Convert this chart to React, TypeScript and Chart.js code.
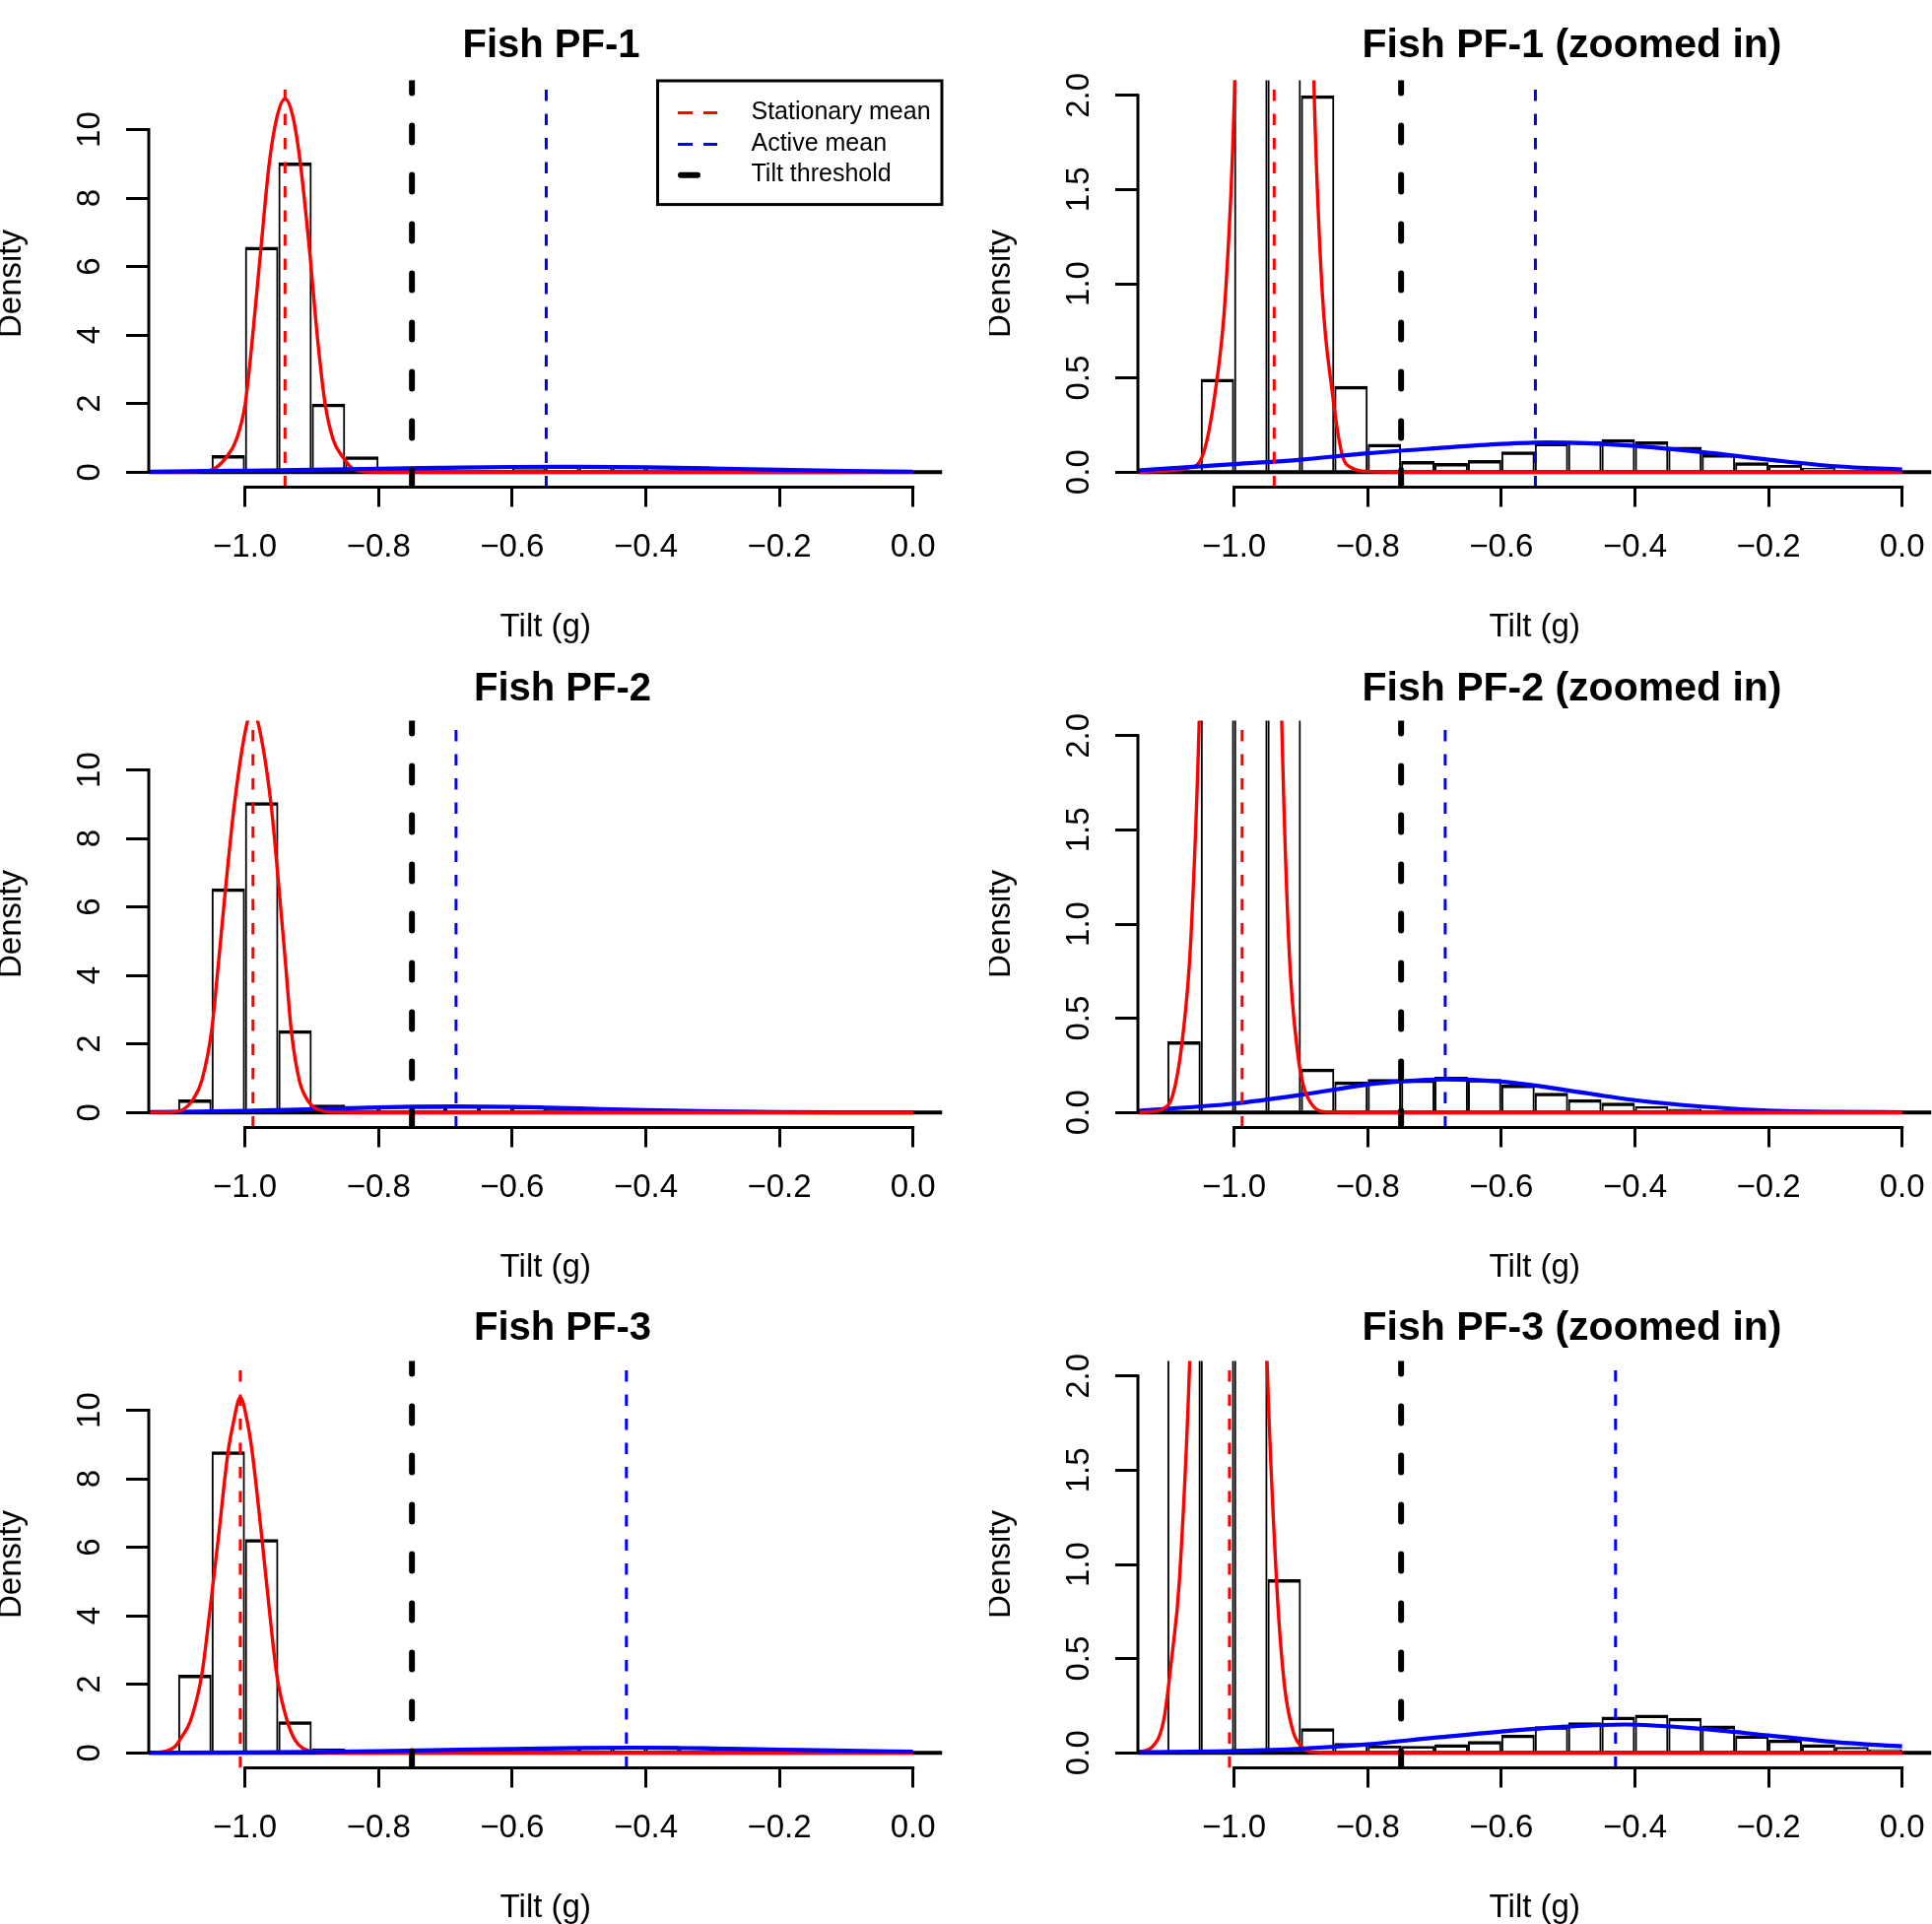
import React, { useEffect, useRef } from 'react';
import { Chart, registerables } from 'chart.js';

Chart.register(...registerables);

const FONT_FAMILY = "'Liberation Sans', Arial, Helvetica, sans-serif";
Chart.defaults.font.family = FONT_FAMILY;
Chart.defaults.color = '#000';

// ---------------- data ----------------
const BIN_WIDTH = 0.05;

// Fish PF-1
const PF1_BIN_LEFT = [-1.05, -1.0, -0.95, -0.9, -0.85, -0.8, -0.75, -0.7, -0.65, -0.6, -0.55, -0.5, -0.45, -0.4, -0.35, -0.3, -0.25, -0.2, -0.15, -0.1, -0.05];
const PF1_DENSITY = [0.495, 6.58, 9.04, 2.0, 0.458, 0.15, 0.059, 0.048, 0.064, 0.109, 0.156, 0.165, 0.175, 0.163, 0.135, 0.095, 0.052, 0.038, 0.022, 0.012, 0.006];
const PF1_STAT_X = [-1.144, -1.106, -1.068, -1.048, -1.0285, -1.013, -0.9996, -0.9893, -0.976, -0.9637, -0.9524, -0.94, -0.9278, -0.917, -0.9037, -0.8909, -0.88, -0.8678, -0.854, -0.8388, -0.8235, -0.8, -0.75, 0.0];
const PF1_STAT_Y = [0, 0.005, 0.022, 0.08, 0.42, 0.94, 1.99, 3.81, 6.55, 9.0, 10.34, 10.9, 10.34, 9.0, 6.55, 3.81, 1.99, 0.94, 0.45, 0.1, 0.022, 0.003, 0, 0];
const PF1_ACT_X = [-1.144, -1.05, -1.0, -0.9, -0.8, -0.7, -0.6, -0.53, -0.5, -0.4, -0.3, -0.2, -0.1, 0.0];
const PF1_ACT_Y = [0.009, 0.03, 0.042, 0.066, 0.1, 0.126, 0.149, 0.157, 0.156, 0.139, 0.106, 0.066, 0.031, 0.013];
const PF1_STATIONARY_MEAN = -0.94;
const PF1_ACTIVE_MEAN = -0.549;

// Fish PF-2
const PF2_BIN_LEFT = [-1.1, -1.05, -1.0, -0.95, -0.9, -0.85, -0.8, -0.75, -0.7, -0.65, -0.6, -0.55, -0.5, -0.45, -0.4, -0.35, -0.3, -0.25, -0.2, -0.15, -0.1, -0.05];
const PF2_DENSITY = [0.378, 6.54, 9.06, 2.4, 0.232, 0.164, 0.178, 0.175, 0.19, 0.178, 0.147, 0.105, 0.07, 0.052, 0.033, 0.019, 0.01, 0.005, 0.003, 0.002, 0.001, 0.001];
const PF2_STAT_X = [-1.144, -1.125, -1.106, -1.092, -1.078, -1.0646, -1.0498, -1.04, -1.0291, -1.0154, -0.9977, -0.9885, -0.9794, -0.9613, -0.949, -0.939, -0.9307, -0.9185, -0.9047, -0.896, -0.881, -0.86, -0.8, 0.0];
const PF2_STAT_Y = [0, 0.004, 0.02, 0.09, 0.37, 0.93, 2.4, 4.29, 6.53, 9.06, 11.3, 11.75, 11.3, 9.06, 6.53, 4.29, 2.4, 0.93, 0.31, 0.14, 0.03, 0.002, 0, 0];
const PF2_ACT_X = [-1.144, -1.0, -0.9, -0.8, -0.75, -0.686, -0.6, -0.55, -0.5, -0.4, -0.3, -0.2, -0.1, 0.0];
const PF2_ACT_Y = [0.009, 0.047, 0.093, 0.148, 0.165, 0.176, 0.164, 0.143, 0.117, 0.065, 0.031, 0.01, 0.003, 0.001];
const PF2_STATIONARY_MEAN = -0.988;
const PF2_ACTIVE_MEAN = -0.684;

// Fish PF-3
const PF3_BIN_LEFT = [-1.1, -1.05, -1.0, -0.95, -0.9, -0.85, -0.8, -0.75, -0.7, -0.65, -0.6, -0.55, -0.5, -0.45, -0.4, -0.35, -0.3, -0.25, -0.2, -0.15, -0.1, -0.05];
const PF3_DENSITY = [2.28, 8.8, 6.24, 0.922, 0.13, 0.052, 0.038, 0.037, 0.045, 0.062, 0.097, 0.141, 0.162, 0.192, 0.202, 0.185, 0.145, 0.092, 0.07, 0.045, 0.031, 0.02];
const PF3_STAT_X = [-1.144, -1.123, -1.105, -1.0935, -1.0818, -1.0646, -1.0532, -1.04, -1.0252, -1.0178, -1.007, -0.9957, -0.9893, -0.9745, -0.9627, -0.9524, -0.9366, -0.925, -0.913, -0.898, -0.876, -0.84, 0.0];
const PF3_STAT_Y = [0.004, 0.03, 0.18, 0.5, 0.92, 2.28, 4.03, 6.24, 8.8, 9.59, 10.38, 9.59, 8.8, 6.24, 4.03, 2.28, 0.92, 0.37, 0.13, 0.029, 0.002, 0, 0];
const PF3_ACT_X = [-1.144, -1.0, -0.9, -0.8, -0.7, -0.6, -0.5, -0.415, -0.3, -0.2, -0.1, 0.0];
const PF3_ACT_Y = [0.003, 0.01, 0.022, 0.045, 0.08, 0.113, 0.139, 0.15, 0.127, 0.092, 0.057, 0.034];
const PF3_STATIONARY_MEAN = -1.007;
const PF3_ACTIVE_MEAN = -0.429;

const TILT_THRESHOLD = -0.75;

const FISH_NAMES = ['Fish PF-1', 'Fish PF-2', 'Fish PF-3'];
const LEGEND_LABELS = ['Stationary mean', 'Active mean', 'Tilt threshold'];

const X_TICKS = [-1.0, -0.8, -0.6, -0.4, -0.2, 0.0];
const X_TICK_LABELS = ['\u22121.0', '\u22120.8', '\u22120.6', '\u22120.4', '\u22120.2', '0.0'];
const Y_TICKS_FULL = [0, 2, 4, 6, 8, 10];
const Y_TICK_LABELS_FULL = ['0', '2', '4', '6', '8', '10'];
const Y_TICKS_ZOOM = [0, 0.5, 1.0, 1.5, 2.0];
const Y_TICK_LABELS_ZOOM = ['0.0', '0.5', '1.0', '1.5', '2.0'];

const X_LIMITS = [-1.144, 0.044];
const Y_LIMITS_FULL = [-0.44, 11.44];
const Y_LIMITS_ZOOM = [-0.08, 2.08];

const FISH = [
  { binLeft: PF1_BIN_LEFT, density: PF1_DENSITY, statX: PF1_STAT_X, statY: PF1_STAT_Y, actX: PF1_ACT_X, actY: PF1_ACT_Y, statMean: PF1_STATIONARY_MEAN, actMean: PF1_ACTIVE_MEAN, redOnTop: false },
  { binLeft: PF2_BIN_LEFT, density: PF2_DENSITY, statX: PF2_STAT_X, statY: PF2_STAT_Y, actX: PF2_ACT_X, actY: PF2_ACT_Y, statMean: PF2_STATIONARY_MEAN, actMean: PF2_ACTIVE_MEAN, redOnTop: true },
  { binLeft: PF3_BIN_LEFT, density: PF3_DENSITY, statX: PF3_STAT_X, statY: PF3_STAT_Y, actX: PF3_ACT_X, actY: PF3_ACT_Y, statMean: PF3_STATIONARY_MEAN, actMean: PF3_ACTIVE_MEAN, redOnTop: false },
];

// ---------------- layout ----------------
const ROW_H = 650;
const CANVAS_H = 675;
const PLOT_LEFT = 151;
const PLOT_W = 805.5;
const PLOT_TOP = 81.5;
const PLOT_BOTTOM = 494.5;
const TICK_SIZE = 33;
const AXIS_TITLE_SIZE = 33;

const PANELS = [
  { fish: 0, zoom: false, left: 0, top: 0, width: 1119, titleTop: 27, titleSize: 40, legend: true },
  { fish: 0, zoom: true, left: 1004, top: 0, width: 1183, titleTop: 26.5, titleSize: 41, legend: false },
  { fish: 1, zoom: false, left: 0, top: 650, width: 1142, titleTop: 29.5, titleSize: 40, legend: false },
  { fish: 1, zoom: true, left: 1004, top: 650, width: 1183, titleTop: 29, titleSize: 41, legend: false },
  { fish: 2, zoom: false, left: 0, top: 1300, width: 1142, titleTop: 28.5, titleSize: 40, legend: false },
  { fish: 2, zoom: true, left: 1004, top: 1300, width: 1183, titleTop: 28, titleSize: 41, legend: false },
];

function rAxisPlugin(yTicks: number[]) {
  return {
    id: 'rAxisLines',
    afterDraw(chart: any) {
      const { ctx, chartArea } = chart;
      const xs = chart.scales.x;
      const ys = chart.scales.y;
      ctx.save();
      ctx.strokeStyle = '#000';
      ctx.lineWidth = 3;
      ctx.lineCap = 'square';
      ctx.setLineDash([]);
      ctx.beginPath();
      ctx.moveTo(xs.getPixelForValue(X_TICKS[0]), chartArea.bottom);
      ctx.lineTo(xs.getPixelForValue(X_TICKS[X_TICKS.length - 1]), chartArea.bottom);
      ctx.moveTo(chartArea.left, ys.getPixelForValue(yTicks[0]));
      ctx.lineTo(chartArea.left, ys.getPixelForValue(yTicks[yTicks.length - 1]));
      ctx.stroke();
      ctx.restore();
    },
  };
}

function rLegendPlugin() {
  const styles = [
    { color: '#ff0000', width: 3, dash: [15, 11], cap: 'butt', x0: 20.5, x1: 60.5 },
    { color: '#0000ff', width: 3, dash: [15, 11], cap: 'butt', x0: 20.5, x1: 60.5 },
    { color: '#000000', width: 6, dash: [17, 33], cap: 'round', x0: 23.5, x1: 60.5 },
  ];
  const rows = [32.5, 64.5, 95.7];
  return {
    id: 'rLegend',
    afterDraw(chart: any) {
      const { ctx, chartArea } = chart;
      const w = 288.5;
      const h = 125.6;
      const left = chartArea.right - 0.5 - w;
      const top = chartArea.top + 0.5;
      ctx.save();
      ctx.strokeStyle = '#000';
      ctx.lineWidth = 3;
      ctx.setLineDash([]);
      ctx.strokeRect(left, top, w, h);
      styles.forEach((s, i) => {
        ctx.beginPath();
        ctx.strokeStyle = s.color;
        ctx.lineWidth = s.width;
        ctx.lineCap = s.cap;
        ctx.setLineDash(s.dash);
        ctx.moveTo(left + s.x0, top + rows[i]);
        ctx.lineTo(left + s.x1, top + rows[i]);
        ctx.stroke();
      });
      ctx.setLineDash([]);
      ctx.fillStyle = '#000';
      ctx.font = `25px ${FONT_FAMILY}`;
      ctx.textAlign = 'left';
      ctx.textBaseline = 'middle';
      LEGEND_LABELS.forEach((label, i) => {
        ctx.fillText(label, left + 95, top + rows[i] - 0.8);
      });
      ctx.restore();
    },
  };
}

function buildConfig(panel: any) {
  const fish = FISH[panel.fish];
  const yLim = panel.zoom ? Y_LIMITS_ZOOM : Y_LIMITS_FULL;
  const yTicks = panel.zoom ? Y_TICKS_ZOOM : Y_TICKS_FULL;
  const yLabels = panel.zoom ? Y_TICK_LABELS_ZOOM : Y_TICK_LABELS_FULL;
  const title = panel.zoom ? `${FISH_NAMES[panel.fish]} (zoomed in)` : FISH_NAMES[panel.fish];
  const rightPad = panel.width - PLOT_LEFT - PLOT_W;
  const titleBottom = PLOT_TOP - panel.titleTop - panel.titleSize;
  const yTickPad = panel.zoom ? 13.1 : 17.7;

  const histData = fish.binLeft.map((b: number, i: number) => ({ x: b + BIN_WIDTH / 2, y: fish.density[i] }));
  const statData = fish.statX.map((x: number, i: number) => ({ x, y: fish.statY[i] }));
  const actData = fish.actX.map((x: number, i: number) => ({ x, y: fish.actY[i] }));
  const vline = (v: number) => [{ x: v, y: yLim[0] }, { x: v, y: yLim[1] }];

  const plugins: any[] = [rAxisPlugin(yTicks)];
  if (panel.legend) plugins.push(rLegendPlugin());

  return {
    type: 'bar',
    data: {
      datasets: [
        {
          type: 'bar',
          label: 'Histogram',
          data: histData,
          backgroundColor: 'rgba(0,0,0,0)',
          borderColor: '#000',
          borderWidth: { top: 3.5, left: 2, right: 2, bottom: 0 },
          borderSkipped: false,
          inflateAmount: 0,
          barPercentage: 1,
          categoryPercentage: 1,
          order: 10,
        },
        {
          type: 'line',
          label: 'Zero',
          data: [{ x: X_LIMITS[0], y: 0 }, { x: X_LIMITS[1], y: 0 }],
          borderColor: '#000',
          borderWidth: 4,
          pointRadius: 0,
          order: 9,
        },
        {
          type: 'line',
          label: 'Stationary density',
          data: statData,
          borderColor: '#ff0000',
          borderWidth: 3.4,
          pointRadius: 0,
          cubicInterpolationMode: 'monotone',
          borderJoinStyle: 'round',
          order: fish.redOnTop ? 7 : 8,
        },
        {
          type: 'line',
          label: 'Active density',
          data: actData,
          borderColor: '#0000ff',
          borderWidth: 4.2,
          pointRadius: 0,
          cubicInterpolationMode: 'monotone',
          borderJoinStyle: 'round',
          order: fish.redOnTop ? 8 : 7,
        },
        {
          type: 'line',
          label: 'Stationary mean',
          data: vline(fish.statMean),
          borderColor: '#ff0000',
          borderWidth: 3,
          borderDash: [11.5, 13],
          pointRadius: 0,
          order: 3,
        },
        {
          type: 'line',
          label: 'Active mean',
          data: vline(fish.actMean),
          borderColor: '#0000ff',
          borderWidth: 3,
          borderDash: [11.5, 13],
          pointRadius: 0,
          order: 2,
        },
        {
          type: 'line',
          label: 'Tilt threshold',
          data: vline(TILT_THRESHOLD),
          borderColor: '#000',
          borderWidth: 6,
          borderDash: [17, 33],
          borderCapStyle: 'round',
          pointRadius: 0,
          order: 1,
        },
      ],
    },
    options: {
      responsive: false,
      maintainAspectRatio: false,
      animation: false,
      devicePixelRatio: 1,
      events: [],
      layout: { padding: { left: 0, top: 0, right: 0, bottom: CANVAS_H - ROW_H } },
      plugins: {
        legend: { display: false },
        tooltip: { enabled: false },
        title: {
          display: true,
          text: title,
          color: '#000',
          fullSize: true,
          align: 'center',
          font: { size: panel.titleSize, weight: 'bold', lineHeight: 1, family: FONT_FAMILY },
          padding: { top: panel.titleTop, bottom: titleBottom },
        },
      },
      scales: {
        x: {
          type: 'linear',
          position: 'bottom',
          min: X_LIMITS[0],
          max: X_LIMITS[1],
          offset: false,
          afterBuildTicks: (s: any) => { s.ticks = X_TICKS.map((v) => ({ value: v })); },
          afterFit: (s: any) => { s.height = ROW_H - PLOT_BOTTOM; },
          grid: { display: true, drawOnChartArea: false, drawTicks: true, tickLength: 20, tickWidth: 3, tickColor: '#000', color: '#000', lineWidth: 3, offset: false },
          border: { display: false },
          ticks: {
            autoSkip: false, minRotation: 0, maxRotation: 0, padding: 21.7, color: '#000',
            font: { size: TICK_SIZE, lineHeight: 1.2 },
            callback: (_v: any, i: number) => X_TICK_LABELS[i],
          },
          title: { display: true, text: 'Tilt (g)', color: '#000', font: { size: AXIS_TITLE_SIZE, lineHeight: 0.82 }, padding: { top: 0, bottom: 0 } },
        },
        y: {
          type: 'linear',
          position: 'left',
          min: yLim[0],
          max: yLim[1],
          afterBuildTicks: (s: any) => { s.ticks = yTicks.map((v) => ({ value: v })); },
          afterFit: (s: any) => { s.width = PLOT_LEFT; },
          grid: { display: true, drawOnChartArea: false, drawTicks: true, tickLength: 23, tickWidth: 3, tickColor: '#000', color: '#000', lineWidth: 3 },
          border: { display: false },
          ticks: {
            autoSkip: false, minRotation: 90, maxRotation: 90, crossAlign: 'center', padding: yTickPad, color: '#000',
            font: { size: TICK_SIZE, lineHeight: 1.2 },
            callback: (_v: any, i: number) => yLabels[i],
          },
          title: { display: true, text: 'Density', color: '#000', font: { size: AXIS_TITLE_SIZE, lineHeight: 0.727 }, padding: 0 },
        },
        pad: {
          type: 'linear',
          position: 'right',
          display: true,
          grid: { display: false },
          border: { display: false },
          ticks: { display: false },
          title: { display: false },
          afterFit: (s: any) => { s.width = rightPad; },
        },
      },
    },
    plugins,
  } as any;
}

function Panel({ panel }: { panel: any }) {
  const ref = useRef<HTMLCanvasElement | null>(null);
  useEffect(() => {
    if (!ref.current) return;
    const chart = new Chart(ref.current, buildConfig(panel));
    return () => chart.destroy();
  }, [panel]);
  return (
    <canvas
      ref={ref}
      width={panel.width}
      height={CANVAS_H}
      style={{ position: 'absolute', left: panel.left, top: panel.top, width: panel.width, height: CANVAS_H }}
    />
  );
}

export default function App() {
  useEffect(() => {
    document.body.style.margin = '0';
    document.body.style.overflow = 'hidden';
  }, []);
  return (
    <div style={{ position: 'absolute', left: 0, top: 0, width: 1961, height: 1953, overflow: 'hidden', background: '#fff' }}>
      {PANELS.map((p, i) => (
        <Panel key={i} panel={p} />
      ))}
    </div>
  );
}
